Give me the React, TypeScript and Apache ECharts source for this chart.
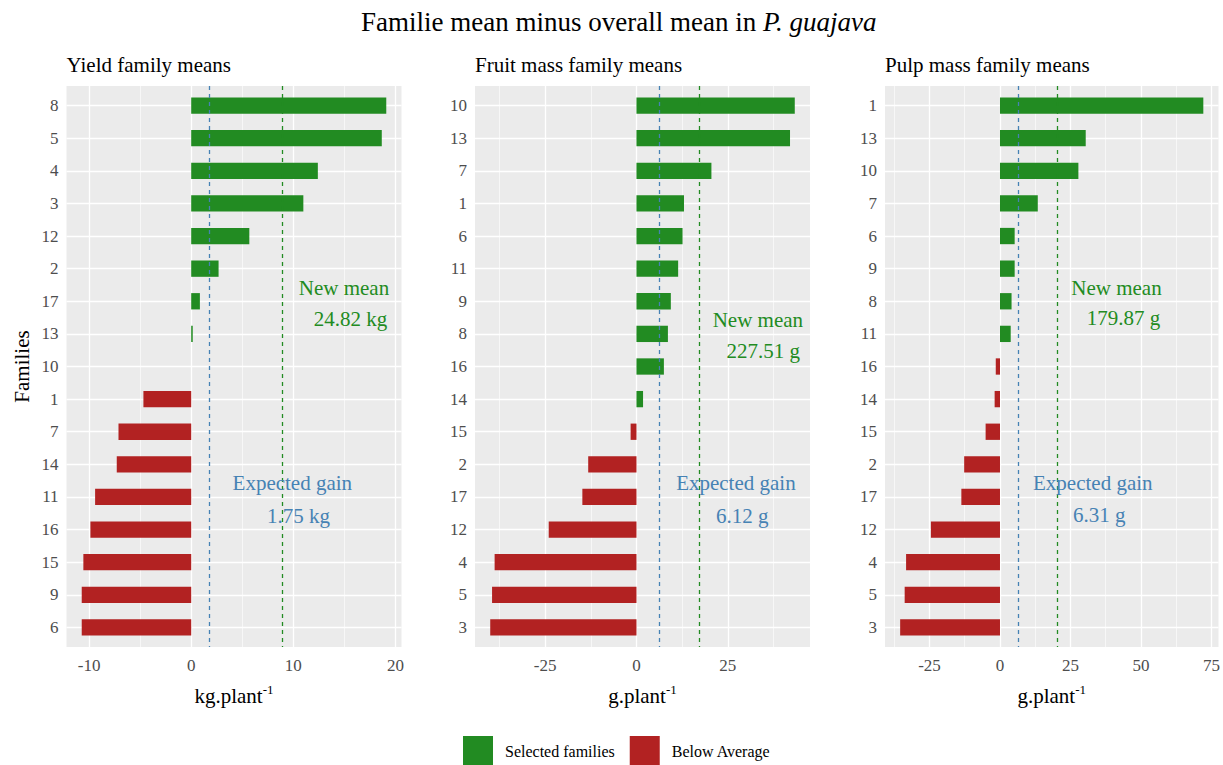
import React, { useEffect, useRef } from "react";
import * as echarts from "echarts";

// Family order (top to bottom) and family mean minus overall mean, per trait
const yieldFamilies = ["8", "5", "4", "3", "12", "2", "17", "13", "10", "1", "7", "14", "11", "16", "15", "9", "6"];
const yieldValues = [19.1, 18.66, 12.4, 10.98, 5.69, 2.68, 0.85, 0.15, 0, -4.68, -7.12, -7.29, -9.41, -9.87, -10.56, -10.72, -10.72];

const fruitFamilies = ["10", "13", "7", "1", "6", "11", "9", "8", "16", "14", "15", "2", "17", "12", "4", "5", "3"];
const fruitValues = [43.3, 42.0, 20.5, 13.0, 12.6, 11.4, 9.4, 8.6, 7.5, 1.8, -1.6, -13.2, -14.8, -24.0, -38.8, -39.5, -40.0];

const pulpFamilies = ["1", "13", "10", "7", "6", "9", "8", "11", "16", "14", "15", "2", "17", "12", "4", "5", "3"];
const pulpValues = [72.1, 30.4, 27.8, 13.4, 5.2, 5.2, 4.1, 3.8, -1.5, -1.9, -5.1, -12.7, -13.7, -24.5, -33.3, -33.8, -35.4];

// Reference lines: expected gain and selection differential
const expectedGain = [1.75, 6.12, 6.31];
const selectionLine = [8.9, 17.2, 20.4];
const newMeans = [24.82, 227.51, 179.87];
const units = ["kg", "g", "g"];

const panelTitles = ["Yield family means", "Fruit mass family means", "Pulp mass family means"];
const axisUnits = ["kg.plant", "g.plant", "g.plant"];
const majorBreaks = [
  [-10, 0, 10, 20],
  [-25, 0, 25],
  [-25, 0, 25, 50, 75],
];
const minorBreaks = [
  [-5, 5, 15],
  [-37.5, -12.5, 12.5, 37.5],
  [-37.5, -12.5, 12.5, 37.5, 62.5],
];

const legendNames = ["Selected families", "Below Average"];

const GREEN = "#228B22";
const RED = "#B22222";
const BLUE = "#4682B4";
const FONT = "'Liberation Serif', 'Times New Roman', serif";

export default function App() {
  const ref = useRef<HTMLDivElement>(null);

  useEffect(() => {
    if (!ref.current) return;
    const chart = echarts.init(ref.current, undefined, { renderer: "svg" });

    const families = [yieldFamilies, fruitFamilies, pulpFamilies];
    const values = [yieldValues, fruitValues, pulpValues];

    // panel placement
    const panelLeft = [66.5, 475, 885];
    const panelWidth = 335;
    const panelTop = 86;
    const panelHeight = 561;

    // annotation anchors in data coordinates: [x, row]
    const newMeanPos = [
      [[14.96, 5.59], [15.6, 6.54]],
      [[33.2, 6.56], [34.7, 7.54]],
      [[41.3, 5.59], [43.8, 6.51]],
    ];
    const gainPos = [
      [[9.9, 11.58], [10.5, 12.57]],
      [[27.2, 11.58], [28.96, 12.57]],
      [[32.9, 11.58], [35.2, 12.56]],
    ];

    const grids: any[] = [];
    const xAxes: any[] = [];
    const yAxes: any[] = [];
    const series: any[] = [];

    const barRender = (params: any, api: any) => {
      const v = api.value(0);
      const idx = api.value(1);
      const a = api.coord([0, idx]);
      const b = api.coord([v, idx]);
      const h = Math.abs(api.size([0, 1])[1]) * 0.5;
      return {
        type: "rect",
        shape: { x: Math.min(a[0], b[0]), y: a[1] - h / 2, width: Math.abs(b[0] - a[0]), height: h },
        style: { fill: api.visual("color") },
      };
    };

    for (let p = 0; p < 3; p++) {
      const fam = families[p];
      const vals = values[p];
      const lo = Math.min(...vals);
      const hi = Math.max(...vals);
      const pad = (hi - lo) * 0.05;
      const rows = fam.map((_, i) => i);

      grids.push({
        left: panelLeft[p],
        top: panelTop,
        width: panelWidth,
        height: panelHeight,
        show: true,
        backgroundColor: "#EBEBEB",
        borderWidth: 0,
      });

      xAxes.push({
        type: "value",
        gridIndex: p,
        min: lo - pad,
        max: hi + pad,
        axisLine: { show: false },
        splitLine: { show: false },
        axisTick: { show: true, length: 4, lineStyle: { color: "#333", width: 1 }, customValues: majorBreaks[p] },
        axisLabel: {
          customValues: majorBreaks[p],
          fontSize: 17,
          color: "#4D4D4D",
          fontFamily: FONT,
          margin: 10,
        },
        name: `{b|${axisUnits[p]}}{s|-1}`,
        nameLocation: "middle",
        nameGap: 36,
        nameTextStyle: {
          rich: {
            b: { fontSize: 21, fontFamily: FONT, color: "#000", lineHeight: 26 },
            s: { fontSize: 13, fontFamily: FONT, color: "#000", lineHeight: 12, verticalAlign: "top" },
          },
        },
      });

      yAxes.push({
        type: "value",
        gridIndex: p,
        inverse: true,
        min: -0.6,
        max: fam.length - 1 + 0.6,
        axisLine: { show: false },
        splitLine: { show: false },
        axisTick: { show: true, length: 4, lineStyle: { color: "#333", width: 1 }, customValues: rows },
        axisLabel: {
          customValues: rows,
          formatter: (v: number) => fam[Math.round(v)] ?? "",
          fontSize: 17,
          color: "#4D4D4D",
          fontFamily: FONT,
          margin: 8,
        },
        name: p === 0 ? "Families" : "",
        nameLocation: "middle",
        nameRotate: 90,
        nameGap: 34,
        nameTextStyle: { fontSize: 21, fontFamily: FONT, color: "#000" },
      });

      // white panel grid lines, kept beneath the bars
      series.push({
        type: "line",
        name: `grid-${p}`,
        xAxisIndex: p,
        yAxisIndex: p,
        data: [],
        z: 1,
        silent: true,
        markLine: {
          z: 1,
          silent: true,
          symbol: ["none", "none"],
          label: { show: false },
          emphasis: { disabled: true },
          lineStyle: { color: "#FFFFFF", width: 1.3, type: "solid" },
          data: [
            ...rows.map((i) => ({ yAxis: i })),
            ...majorBreaks[p].map((v) => ({ xAxis: v })),
            ...minorBreaks[p].map((v) => ({ xAxis: v, lineStyle: { color: "#FFFFFF", width: 0.6, type: "solid" } })),
          ],
        },
      });

      const selected = rows.filter((i) => vals[i] > 0).map((i) => [vals[i], i]);
      const below = rows.filter((i) => vals[i] < 0).map((i) => [vals[i], i]);

      series.push({
        type: "custom",
        name: legendNames[0],
        xAxisIndex: p,
        yAxisIndex: p,
        itemStyle: { color: GREEN },
        encode: { x: 0, y: 1 },
        data: selected,
        z: 3,
        renderItem: barRender,
      });
      series.push({
        type: "custom",
        name: legendNames[1],
        xAxisIndex: p,
        yAxisIndex: p,
        itemStyle: { color: RED },
        encode: { x: 0, y: 1 },
        data: below,
        z: 3,
        renderItem: barRender,
      });

      const textLabel = (coord: number[], text: string, color: string) => ({
        coord,
        symbol: "circle",
        symbolSize: 1,
        itemStyle: { color: "rgba(0,0,0,0)" },
        label: {
          show: true,
          position: "inside",
          formatter: text,
          color,
          fontSize: 21,
          fontFamily: FONT,
        },
      });

      // dashed reference lines and their annotations
      series.push({
        type: "line",
        name: `ref-${p}`,
        xAxisIndex: p,
        yAxisIndex: p,
        data: [],
        z: 5,
        silent: true,
        markLine: {
          z: 5,
          silent: true,
          symbol: ["none", "none"],
          label: { show: false },
          emphasis: { disabled: true },
          data: [
            { xAxis: expectedGain[p], lineStyle: { color: BLUE, width: 1.3, type: [4, 4] } },
            { xAxis: selectionLine[p], lineStyle: { color: GREEN, width: 1.3, type: [4, 4] } },
          ],
        },
        markPoint: {
          z: 6,
          silent: true,
          data: [
            textLabel(newMeanPos[p][0], "New mean", GREEN),
            textLabel(newMeanPos[p][1], `${newMeans[p].toFixed(2)} ${units[p]}`, GREEN),
            textLabel(gainPos[p][0], "Expected gain", BLUE),
            textLabel(gainPos[p][1], `${expectedGain[p].toFixed(2)} ${units[p]}`, BLUE),
          ],
        },
      });
    }

    const titles: any[] = [
      {
        text: "Familie mean minus overall mean in {i|P. guajava}",
        left: 361,
        top: 8,
        padding: 0,
        textStyle: {
          fontFamily: FONT,
          fontSize: 27,
          fontWeight: "normal",
          color: "#000",
          rich: { i: { fontFamily: FONT, fontSize: 27, fontStyle: "italic", color: "#000" } },
        },
      },
      ...panelTitles.map((t, p) => ({
        text: t,
        left: panelLeft[p],
        top: 54,
        padding: 0,
        textStyle: { fontFamily: FONT, fontSize: 21, fontWeight: "normal", color: "#000" },
      })),
    ];

    chart.setOption({
      animation: false,
      backgroundColor: "#FFFFFF",
      title: titles,
      grid: grids,
      xAxis: xAxes,
      yAxis: yAxes,
      legend: {
        data: legendNames,
        left: 463,
        top: 736,
        padding: 0,
        icon: "rect",
        itemWidth: 30,
        itemHeight: 30,
        itemGap: 15,
        selectedMode: false,
        textStyle: { fontFamily: FONT, fontSize: 16, color: "#000", padding: [8, 0, 0, 7] },
      },
      series,
    });

    return () => chart.dispose();
  }, []);

  return (
    <div
      ref={ref}
      style={{ position: "fixed", left: 0, top: 0, width: 1223, height: 765, background: "#fff" }}
    />
  );
}
